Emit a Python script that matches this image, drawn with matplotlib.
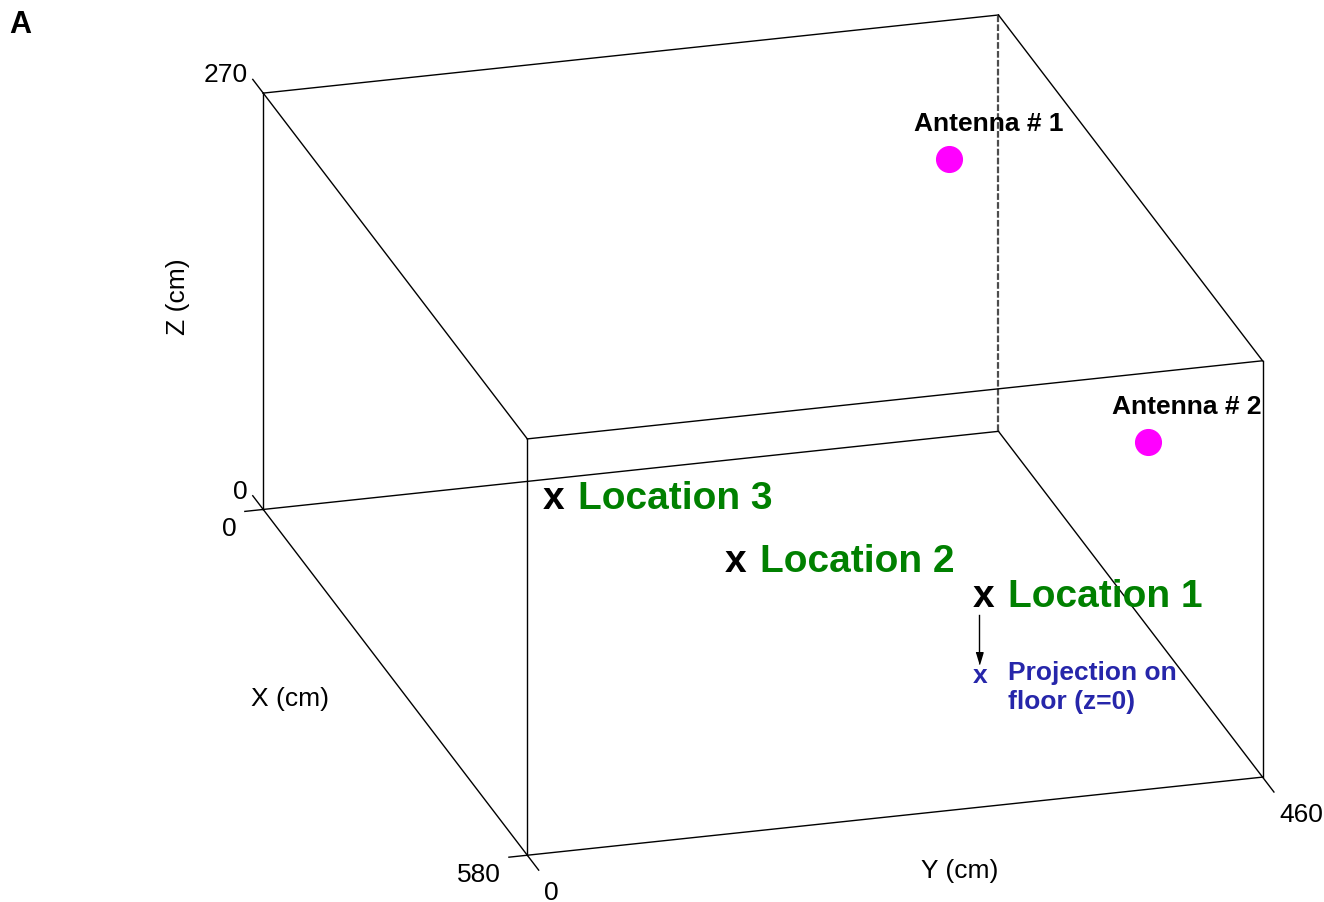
import itertools
import matplotlib
matplotlib.use('Agg')
import matplotlib.pyplot as plt
import matplotlib.transforms as mtransforms

plt.rcParams['font.family'] = ['Liberation Sans', 'DejaVu Sans']

# room size (cm)
x_lim = [0, 580]
y_lim = [0, 460]
z_lim = [0, 270]

# tick values shown on each axis
x_ticks = [0, 580]
y_ticks = [0, 460]
z_ticks = [0, 270]

# antenna positions (cm)
ant_labels = ['Antenna # 1', 'Antenna # 2']
ant_x = [215, 328]
ant_y = [368, 460]
ant_z = [270, 120]

# measurement locations (cm)
loc_labels = ['Location 1', 'Location 2', 'Location 3']
loc_x = [386, 290, 162]
loc_y = [334, 206, 129]
loc_z = [49, 49, 49]

blue = '#2626AA'

fig = plt.figure(figsize=(13.24, 9.02), dpi=100)
ax = fig.add_axes([83 / 1324, -213 / 902, 1.0, 1324 / 902],
                  projection='3d', proj_type='ortho')
ax.view_init(elev=21.9, azim=-15.9)
ax.set_box_aspect((x_lim[1], y_lim[1], z_lim[1]), zoom=0.9602)
ax.set_axis_off()
ax.set_xticks([])
ax.set_yticks([])
ax.set_zticks([])
# the built-in axis texts are not used
for axis in (ax.xaxis, ax.yaxis, ax.zaxis):
    axis.label.set_visible(False)
    axis.offsetText.set_visible(False)
ax.title.set_visible(False)


def shift(dx, dy):
    # data transform moved by some pixels
    return mtransforms.offset_copy(ax.transData, fig=fig, x=dx, y=dy, units='dots')


# box edges, the hidden back corner edge dotted
corners = list(itertools.product(x_lim, y_lim, z_lim))
for a, b in itertools.combinations(corners, 2):
    if sum(p != q for p, q in zip(a, b)) != 1:
        continue
    hidden = a[0] == x_lim[0] and b[0] == x_lim[0] and a[1] == y_lim[1] and b[1] == y_lim[1]
    if hidden:
        ax.plot(*zip(a, b), color='0.3', lw=1.6, ls=(0, (3, 1)))
    else:
        ax.plot(*zip(a, b), color='k', lw=1.0)

# ticks + tick labels
for z in z_ticks:
    ax.plot([0, -23], [0, 0], [z, z], color='k', lw=1.0)
    ax.text(-23, 0, z, str(z), transform=shift(-5, -3),
            ha='right', va='baseline', fontsize=19)
for x in x_ticks:
    ax.plot([x, x], [0, -11.5], [0, 0], color='k', lw=1.0)
    ax.text(x, -11.5, 0, str(x), transform=shift(-8, -25),
            ha='right', va='baseline', fontsize=19)
for y in y_ticks:
    ax.plot([x_lim[1], x_lim[1] + 25], [y, y], [0, 0], color='k', lw=1.0)
    ax.text(x_lim[1] + 25, y, 0, str(y), transform=shift(5, -30),
            ha='left', va='baseline', fontsize=19)

# antennas
ax.plot(ant_x, ant_y, ant_z, 'o', color='magenta', ms=18.5, ls='none')
for name, x, y, z in zip(ant_labels, ant_x, ant_y, ant_z):
    ax.text(x, y, z, name, transform=shift(39, 28), ha='center', va='baseline',
            fontsize=19, fontweight='bold')

# locations
for name, x, y, z in zip(loc_labels, loc_x, loc_y, loc_z):
    ax.text(x, y, z, 'x', ha='left', va='baseline', fontsize=28,
            fontweight='bold', color='k')
    ax.text(x, y, z, name, transform=shift(35, 0), ha='left', va='baseline',
            fontsize=28, fontweight='bold', color='green')

# projection of location 1 on the floor
px, py = loc_x[0], loc_y[0]
ax.text(px, py, 0, 'x', ha='left', va='baseline', fontsize=19,
        fontweight='bold', color=blue)
ax.text(px, py, 0, 'Projection on\nfloor (z=0)', transform=shift(35, -26),
        ha='left', va='baseline', fontsize=19, fontweight='bold', color=blue,
        linespacing=1.25)
ax.plot([px, px], [py, py], [44, 16], color='k', lw=1.0, transform=shift(6, 0))
ax.plot([px], [py], [12.4], marker=[(-0.3, 1), (0.3, 1), (0, 0)], ms=17,
        color='k', ls='none', transform=shift(6, 0))

ax.set_xlim(x_lim)
ax.set_ylim(y_lim)
ax.set_zlim(z_lim)

fig.text(185 / 1324, 1 - 296.5 / 902, 'Z (cm)', rotation=90, rotation_mode='anchor',
         ha='center', va='baseline', fontsize=19)
fig.text(290 / 1324, 1 - 706 / 902, 'X (cm)', ha='center', va='baseline', fontsize=19)
fig.text(960 / 1324, 1 - 878 / 902, 'Y (cm)', ha='center', va='baseline', fontsize=19)
fig.text(9 / 1324, 1 - 33 / 902, 'A', ha='left', va='baseline', fontsize=22,
         fontweight='bold')

fig.savefig('out.png', dpi=100)
